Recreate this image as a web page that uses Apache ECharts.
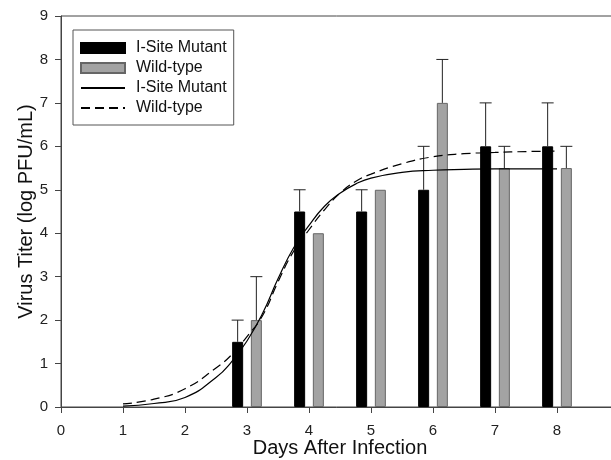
<!DOCTYPE html>
<html>
<head>
<meta charset="utf-8">
<script src="https://cdn.jsdelivr.net/npm/echarts@6/dist/echarts.min.js"></script>
<style>
  html, body { margin: 0; padding: 0; background: #fff; }
  #chart { width: 611px; height: 460px; }
</style>
</head>
<body>
<div id="chart"></div>
<script>
// measured titers (log PFU/mL), days 3..8
var days = [3, 4, 5, 6, 7, 8];
var mutantTiter = [1.5, 4.5, 4.5, 5, 6, 6];
var mutantErr = [0.5, 0.5, 0.5, 1, 1, 1];
var wildTiter = [2, 4, 5, 7, 5.5, 5.5];
var wildErr = [1, 0, 0, 1, 0.5, 0.5];

// fitted curves
var fitDays = [1, 1.5, 2, 2.5, 2.75, 3, 3.25, 3.5, 3.75, 4, 4.25, 4.5, 4.75, 5, 5.5, 6, 6.5, 7, 7.5, 8];
var mutantFit = [0.02, 0.08, 0.22, 0.68, 1.04, 1.52, 2.15, 2.95, 3.66, 4.18, 4.62, 4.92, 5.13, 5.27, 5.4, 5.45, 5.47, 5.48, 5.48, 5.48];
var wildFit = [0.07, 0.18, 0.42, 0.9, 1.2, 1.62, 2.1, 2.88, 3.58, 4.08, 4.54, 4.92, 5.19, 5.36, 5.6, 5.76, 5.83, 5.86, 5.88, 5.89];

var legendNames = {
  mutBar: 'I-Site Mutant',
  wtBar: 'Wild-type',
  mutFit: 'I-Site Mutant',
  wtFit: 'Wild-type'
};

var barW = 11;
var barGapPct = 70;
var halfShift = (barW + barW * barGapPct / 100) / 2;

function zip(xs, ys) {
  return xs.map(function (x, i) { return [x, ys[i]]; });
}

function errData(vals, errs, side) {
  return days.map(function (d, i) { return [d, vals[i], errs[i], side]; });
}

function renderErr(params, api) {
  var err = api.value(2);
  if (!err) return;
  var shift = api.value(3) * halfShift;
  var p0 = api.coord([api.value(0), api.value(1)]);
  var p1 = api.coord([api.value(0), api.value(1) + err]);
  var x = p0[0] + shift;
  var cap = 6;
  var st = { stroke: '#222', lineWidth: 1 };
  return {
    type: 'group',
    children: [
      { type: 'line', shape: { x1: x, y1: p0[1], x2: x, y2: p1[1] }, style: st },
      { type: 'line', shape: { x1: x - cap, y1: p1[1], x2: x + cap, y2: p1[1] }, style: st }
    ]
  };
}

var chart = echarts.init(document.getElementById('chart'));
var font = '"Liberation Sans", Arial, sans-serif';

var option = {
  animation: false,
  backgroundColor: '#fff',
  textStyle: { fontFamily: font },
  grid: {
    left: 61, top: 16, width: 558, bottom: 53,
    outerBoundsMode: 'none', containLabel: false,
    show: true, borderColor: '#444', borderWidth: 1, backgroundColor: 'transparent'
  },
  legend: {
    orient: 'vertical',
    left: 73, top: 30,
    padding: [10, 7, 9, 7],
    borderColor: '#555', borderWidth: 1,
    itemWidth: 44, itemHeight: 10, itemGap: 4,
    textStyle: { fontSize: 16, color: '#111', lineHeight: 16, padding: [0, 0, 0, 6] },
    formatter: function (name) { return legendNames[name]; },
    data: [
      { name: 'mutBar', icon: 'rect' },
      { name: 'wtBar', icon: 'rect' },
      { name: 'mutFit', itemStyle: { opacity: 0 } },
      { name: 'wtFit', itemStyle: { opacity: 0 } }
    ]
  },
  xAxis: {
    type: 'value', min: 0, max: 9, interval: 1,
    name: 'Days After Infection', nameLocation: 'middle', nameGap: 31,
    nameMoveOverlap: false,
    nameTextStyle: { fontSize: 20, color: '#111' },
    axisLine: { onZero: false, lineStyle: { color: '#444', width: 1 } },
    axisTick: { show: true, length: 6, inside: false, lineStyle: { color: '#444' } },
    axisLabel: { fontSize: 15, color: '#222', margin: 16 },
    splitLine: { show: false }
  },
  yAxis: {
    type: 'value', min: 0, max: 9, interval: 1,
    name: 'Virus Titer (log PFU/mL)', nameLocation: 'middle', nameGap: 25,
    nameMoveOverlap: false,
    nameTextStyle: { fontSize: 20, color: '#111' },
    axisLine: { show: true, lineStyle: { color: '#444', width: 1 } },
    axisTick: { show: true, length: 6, inside: false, lineStyle: { color: '#444' } },
    axisLabel: { fontSize: 15, color: '#222', margin: 13 },
    splitLine: { show: false }
  },
  series: [
    {
      name: 'mutBar', type: 'bar', data: zip(days, mutantTiter),
      barWidth: barW, barGap: barGapPct + '%',
      itemStyle: { color: '#000', borderColor: '#000', borderWidth: 1 }
    },
    {
      name: 'wtBar', type: 'bar', data: zip(days, wildTiter),
      barWidth: barW, barGap: barGapPct + '%',
      itemStyle: { color: '#a3a3a3', borderColor: '#666', borderWidth: 1 }
    },
    {
      name: 'mutErr', type: 'custom', renderItem: renderErr,
      data: errData(mutantTiter, mutantErr, -1), z: 3
    },
    {
      name: 'wtErr', type: 'custom', renderItem: renderErr,
      data: errData(wildTiter, wildErr, 1), z: 3
    },
    {
      name: 'mutFit', type: 'line', data: zip(fitDays, mutantFit),
      smooth: true, symbol: 'none', z: 4,
      itemStyle: { color: '#000' },
      lineStyle: { color: '#000', width: 1.2, type: 'solid' }
    },
    {
      name: 'wtFit', type: 'line', data: zip(fitDays, wildFit),
      smooth: true, symbol: 'none', z: 4,
      itemStyle: { color: '#000' },
      lineStyle: { color: '#000', width: 1.2, type: [9, 5] }
    }
  ]
};

chart.setOption(option);
</script>
</body>
</html>
